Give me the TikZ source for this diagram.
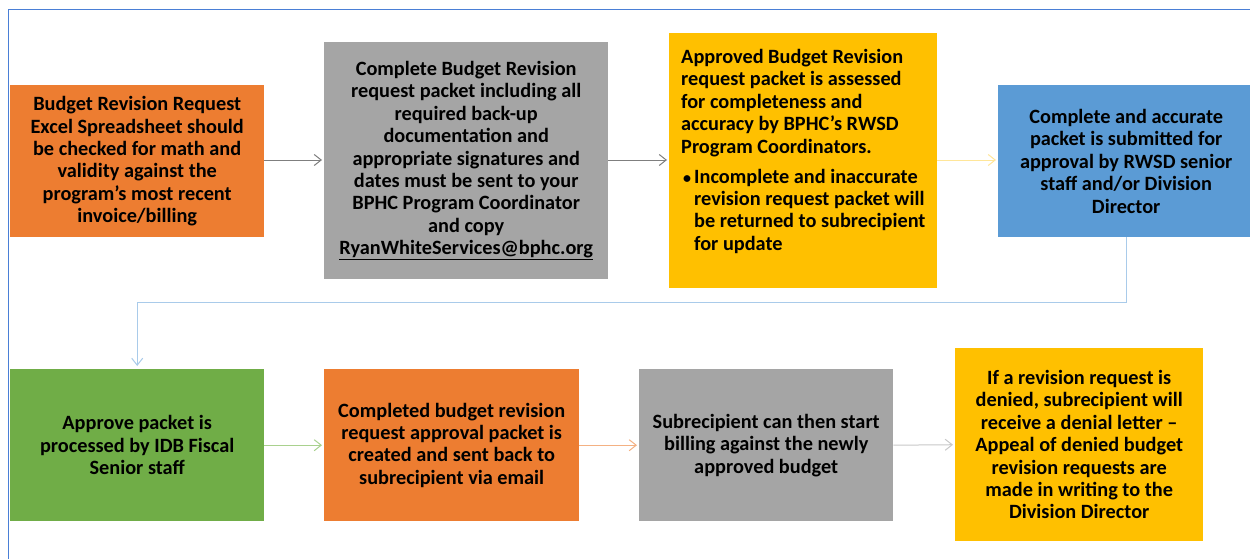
\documentclass[tikz,border=0pt]{standalone}
\usepackage{fontspec}
\setmainfont{Carlito}
\usetikzlibrary{arrows.meta}
\definecolor{cOrange}{HTML}{ED7D31}
\definecolor{cGray}{HTML}{A5A5A5}
\definecolor{cYellow}{HTML}{FFC000}
\definecolor{cBlue}{HTML}{5B9BD5}
\definecolor{cGreen}{HTML}{70AD47}
\definecolor{cFrame}{HTML}{4A7FD6}
\definecolor{aGray}{HTML}{7F7F7F}
\definecolor{aYellow}{HTML}{FFE699}
\definecolor{aBlue}{HTML}{A9CBEA}
\definecolor{aGreen}{HTML}{A9D18E}
\definecolor{aOrange}{HTML}{F4B183}
\definecolor{aLGray}{HTML}{C9C9C9}
\tikzset{
  stepbox/.style={draw=none, inner sep=0pt, anchor=north west, align=center,
    font=\fontsize{20.3}{22.4}\selectfont\bfseries},
  flow/.style={line width=1pt, -{Straight Barb[length=7pt,width=11pt,line width=1pt]}, shorten >=2pt}
}
\begin{document}
\begin{tikzpicture}[x=1pt,y=-1pt]
\useasboundingbox (0,0) rectangle (1250,559);
\fill[white] (0,0) rectangle (1250,559);
\draw[cFrame, line width=1pt] (8,565) -- (8,10) -- (1260,10);
% row 1
\node[stepbox, fill=cOrange, minimum width=254pt, minimum height=152pt] (b1) at (10,85)
 {Budget Revision Request\\Excel Spreadsheet should\\be checked for math and\\validity against the\\program’s most recent\\invoice/billing};
\node[stepbox, fill=cGray, minimum width=284pt, minimum height=237pt] (b2) at (324,42)
 {Complete Budget Revision\\request packet including all\\required back-up\\documentation and\\appropriate signatures and\\dates must be sent to your\\BPHC Program Coordinator\\and copy\\\underline{RyanWhiteServices@bphc.org}};
\node[stepbox, fill=cYellow, minimum width=268pt, minimum height=255pt] (b3) at (669,33) {};
\node[stepbox, align=left, anchor=north west] (t3) at (681,49)
 {Approved Budget Revision\\request packet is assessed\\for completeness and\\accuracy by BPHC’s RWSD\\Program Coordinators.\\[7.6pt]
 \makebox[13pt][l]{\hspace*{2pt}\fontsize{16}{16}\selectfont\textbullet}Incomplete and inaccurate\\
 \hspace*{13pt}revision request packet will\\
 \hspace*{13pt}be returned to subrecipient\\
 \hspace*{13pt}for update};
\node[stepbox, fill=cBlue, minimum width=256pt, minimum height=152pt] (b4) at (998,85)
 {Complete and accurate\\packet is submitted for\\approval by RWSD senior\\staff and/or Division\\Director};
% row 2
\node[stepbox, fill=cGreen, minimum width=254pt, minimum height=152pt] (b5) at (10,369)
 {Approve packet is\\processed by IDB Fiscal\\Senior staff};
\node[stepbox, fill=cOrange, minimum width=255pt, minimum height=152pt] (b6) at (324,369)
 {Completed budget revision\\request approval packet is\\created and sent back to\\subrecipient via email};
\node[stepbox, fill=cGray, minimum width=254pt, minimum height=152pt] (b7) at (639,369)
 {Subrecipient can then start\\billing against the newly\\approved budget};
\node[stepbox, fill=cYellow, minimum width=248pt, minimum height=193pt] (b8) at (955,348)
 {If a revision request is\\denied, subrecipient will\\receive a denial letter –\\Appeal of denied budget\\revision requests are\\made in writing to the\\Division Director};
% connectors
\draw[flow, aGray] (b1.east |- 0,160) -- (b2.west |- 0,160);
\draw[flow, aGray] (b2.east |- 0,160) -- (b3.west |- 0,160);
\draw[flow, aYellow] (b3.east |- 0,160) -- (b4.west |- 0,160);
\draw[flow, aBlue, shorten >=3pt] (b4.south -| 1126,0) -- (1126,302) -| (b5.north);
\draw[flow, aGreen] (b5.east) -- (b6.west);
\draw[flow, aOrange] (b6.east) -- (b7.west);
\draw[flow, aLGray] (b7.east) -- (b8.west);
\end{tikzpicture}
\end{document}
